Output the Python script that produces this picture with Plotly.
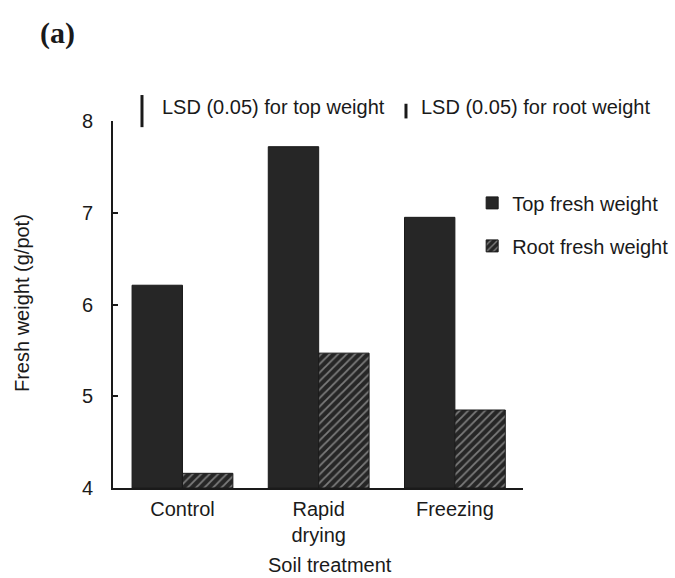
import plotly.graph_objects as go

# Soil treatment categories and fresh weights (g/pot)
treatments = ["Control", "Rapid<br>drying", "Freezing"]
top_weight = [6.21, 7.72, 6.95]
root_weight = [4.16, 5.47, 4.85]

# Least significant differences (P = 0.05)
lsd_top = 0.35
lsd_root = 0.16

y_ticks = [4, 5, 6, 7, 8]
y_min, y_max = 4, 8

FONT = "Liberation Sans, Arial, Helvetica, sans-serif"
DARK = "#262626"
INK = "#1a1a1a"

x_pos = list(range(len(treatments)))

fig = go.Figure()
fig.add_trace(go.Bar(
    x=x_pos, y=[v - y_min for v in top_weight], base=y_min,
    name="Top fresh weight", legendgroup="top",
    marker=dict(color=DARK, line=dict(color=INK, width=1)),
))
fig.add_trace(go.Bar(
    x=x_pos, y=[v - y_min for v in root_weight], base=y_min,
    name="Root fresh weight", legendgroup="root",
    marker=dict(
        color=DARK,
        line=dict(color=INK, width=1),
        pattern=dict(shape="/", bgcolor=DARK, fgcolor="#d0d0d0",
                     size=6, solidity=0.3),
    ),
))

span = y_max - y_min


def lsd_bar(x_paper, y_center_paper, lsd):
    half = lsd / 2 / span
    return dict(type="line", xref="paper", yref="paper",
                x0=x_paper, x1=x_paper,
                y0=y_center_paper - half, y1=y_center_paper + half,
                line=dict(color=INK, width=3))


shapes = [
    lsd_bar(0.0707, 1.027, lsd_top),
    lsd_bar(0.7146, 1.027, lsd_root),
]


def note(text, x, y, size, xanchor="center", yanchor="middle", **kw):
    return dict(text=text, x=x, y=y, xref="paper", yref="paper",
                xanchor=xanchor, yanchor=yanchor, showarrow=False,
                font=dict(family=kw.pop("family", FONT), size=size, color=INK),
                **kw)


annotations = [
    note("<b>(a)</b>", -0.136, 1.24, 30,
         family="Liberation Serif, Times New Roman, serif"),
    note("LSD (0.05) for top weight", 0.115, 1.037, 20, xanchor="left"),
    note("LSD (0.05) for root weight", 0.7455, 1.037, 20, xanchor="left"),
    note("Fresh weight (g/pot)", -0.222, 0.504, 20, textangle=-90),
    note("Soil treatment", 0.529, -0.21, 20),
]

fig.update_layout(
    width=675, height=578,
    margin=dict(l=113, r=152, t=121, b=90, autoexpand=False),
    paper_bgcolor="white", plot_bgcolor="white",
    barmode="group", bargap=0.26, bargroupgap=0,
    showlegend=True,
    legend=dict(x=0.876, y=0.83, xanchor="left", yanchor="top",
                traceorder="grouped", tracegroupgap=14,
                font=dict(family=FONT, size=20, color=INK),
                bgcolor="rgba(0,0,0,0)"),
    shapes=shapes,
    annotations=annotations,
    font=dict(family=FONT, color=INK),
)

fig.update_xaxes(
    range=[-0.51, 2.5], tickvals=x_pos, ticktext=treatments,
    showline=True, linecolor=INK, linewidth=2,
    showgrid=False, zeroline=False, ticks="",
    tickfont=dict(family=FONT, size=20, color=INK),
    ticklabelstandoff=2,
)
fig.update_yaxes(
    range=[y_min, y_max], tickvals=y_ticks,
    showline=True, linecolor=INK, linewidth=2,
    showgrid=False, zeroline=False,
    ticks="inside", ticklen=5, tickwidth=2, tickcolor=INK,
    tickfont=dict(family=FONT, size=20, color=INK),
    ticklabelstandoff=14,
)

fig.write_html("out.html")
